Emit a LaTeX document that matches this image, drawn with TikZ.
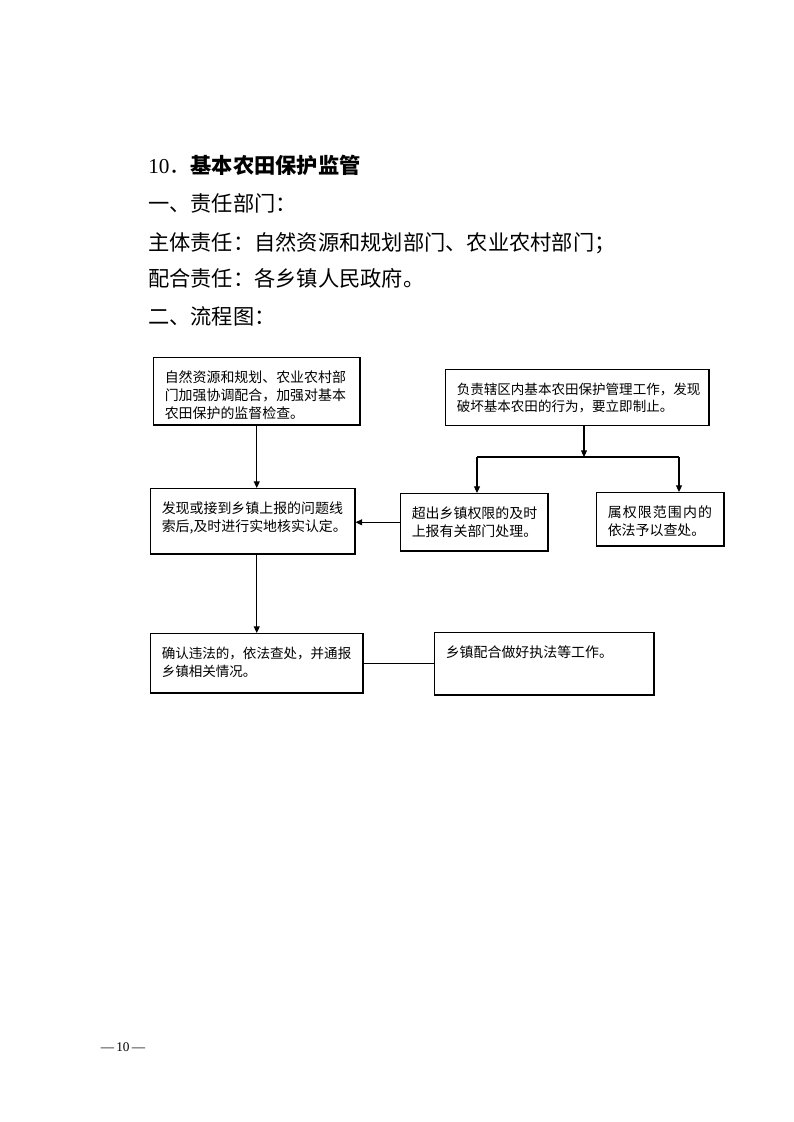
\documentclass[tikz,border=0pt]{standalone}
\usepackage{fontspec}
\setmainfont{Liberation Serif}
\newfontfamily\cjk{Noto Sans CJK SC}
\newfontfamily\cjkwide{Noto Sans CJK SC}[LetterSpace=8]
\usetikzlibrary{arrows.meta}
\hfuzz=8pt

\begin{document}
\begin{tikzpicture}[x=0.02648cm,y=-0.02648cm,
  every node/.style={inner sep=0pt},
  head/.style={anchor=base west,font=\cjk\fontsize{16pt}{20pt}\selectfont},
  box/.style={draw,line width=1.1pt,anchor=north west,align=left,
    inner xsep=8.3pt,inner ysep=0pt,text height=18.5pt,
    font=\cjk\fontsize{10.5pt}{13.5pt}\selectfont},
  conn/.style={line width=0.8pt},
  >={Triangle[length=5pt,width=4.5pt]}]
  \useasboundingbox (0,0) rectangle (793,1122);

  \node[head] (title) at (148,173) {{\rmfamily 10}．{\bfseries 基本农田保护监管}};
  \node[head] (dept) at (148,211) {一、责任部门：};
  \node[head] (main) at (148,250) {主体责任：自然资源和规划部门、农业农村部门；};
  \node[head] (assist) at (148,286) {配合责任：各乡镇人民政府。};
  \node[head] (flow) at (148,324) {二、流程图：};

  \node[box,text width=138.6pt,text depth=32.0pt] (coord) at (153,357)
    {自然资源和规划、农业农村部\\门加强协调配合，加强对基本\\农田保护的监督检查。};
  \node[box,text width=181.6pt,text depth=23.7pt,
    font=\cjk\fontsize{10.2pt}{13pt}\selectfont] (town) at (445,369)
    {负责辖区内基本农田保护管理工作，发现\\破坏基本农田的行为，要立即制止。};
  \node[box,text width=137.1pt,text depth=30.5pt] (check) at (150,488)
    {发现或接到乡镇上报的问题线\\索后,及时进行实地核实认定。};
  \node[box,text width=94.2pt,text depth=24.5pt] (report) at (400,493)
    {超出乡镇权限的及时\\上报有关部门处理。};
  \node[box,text width=79.1pt,text depth=21.5pt] (handle) at (596,492)
    {{\cjkwide 属权限范围内的}\\依法予以查处。};
  \node[box,text width=143.2pt,text depth=26.0pt,
    font=\cjk\fontsize{10.2pt}{13.5pt}\selectfont] (confirm) at (150,633)
    {确认违法的，依法查处，并通报\\乡镇相关情况。};
  \node[box,text width=148.4pt,text depth=28.3pt] (enforce) at (434,632)
    {乡镇配合做好执法等工作。};

  \coordinate (split) at (584,457);
  \coordinate (splitl) at (477,457);
  \coordinate (splitr) at (679,457);

  \draw[conn,->] (coord.south) -- (coord.south |- check.north);
  \draw[conn,->] (town.south -| split) -- (split);
  \draw[conn] (splitl) -- (splitr);
  \draw[conn,->] (splitl) -- (splitl |- report.north);
  \draw[conn,->] (splitr) -- (splitr |- handle.north);
  \draw[conn,->] (report.west) -- (report.west -| check.east);
  \draw[conn,->] (check.south -| coord.south) -- (confirm.north -| coord.south);
  \draw[conn] (confirm.east) -- (confirm.east -| enforce.west);

  \node[font=\fontsize{10pt}{12pt}\selectfont] (page) at (123,1047) {—\,10\,—};
\end{tikzpicture}
\end{document}
